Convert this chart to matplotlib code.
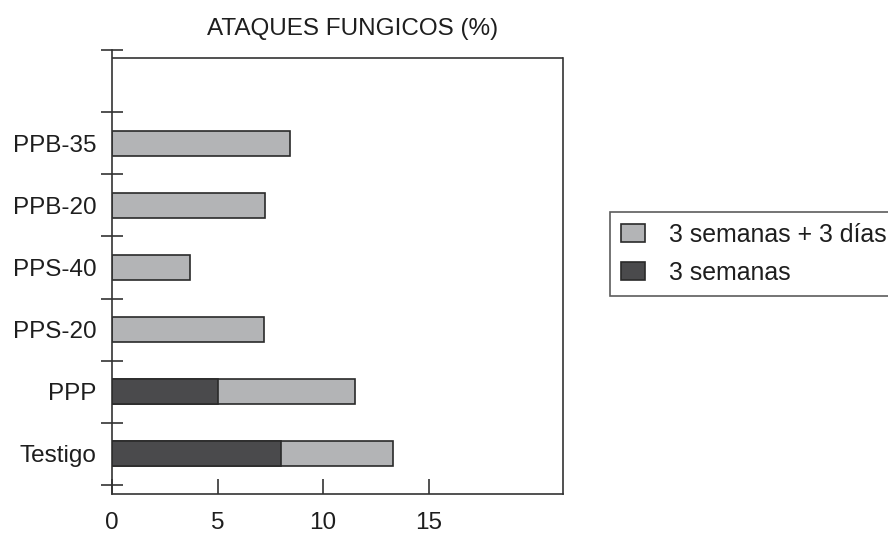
import numpy as np
import matplotlib
matplotlib.use("Agg")
import matplotlib.pyplot as plt
from matplotlib.patches import Patch

plt.rcParams['font.family'] = ['Liberation Sans', 'DejaVu Sans']

# data, bottom to top
categories = ["Testigo", "PPP", "PPS-20", "PPS-40", "PPB-20", "PPB-35"]
tres_semanas = [8.0, 5.0, 0, 0, 0, 0]
tres_semanas_3dias = [13.3, 11.5, 7.2, 3.7, 7.25, 8.45]
x_ticks = [0, 5, 10, 15]

light = "#b3b4b6"
dark = "#4a4a4c"
edge = "#2a2a2a"
txt = "#1e1e1e"

fig = plt.figure(figsize=(8.88, 5.34), dpi=100)
ax = fig.add_axes([0.1261, 0.0749, 0.5076, 0.8315])

ypos = np.arange(len(categories))
ax.barh(ypos, tres_semanas_3dias, height=0.40, color=light,
        edgecolor=edge, linewidth=1.2, zorder=2)
# only draw the dark part where there is one
idx = [i for i, v in enumerate(tres_semanas) if v > 0]
ax.barh(ypos[idx], [tres_semanas[i] for i in idx], height=0.40, color=dark,
        edgecolor=edge, linewidth=1.2, zorder=3)

ax.set_xlim(0, 21.35)
ax.set_ylim(-0.645, 6.5)

##spines
for s in ["left", "bottom", "right"]:
    ax.spines[s].set_color("#333333")
    ax.spines[s].set_linewidth(1.2)
ax.spines["top"].set_visible(False)
top_y = 6.376
ax.spines["right"].set_bounds(-0.645, top_y)
ax.axhline(top_y, color="#333333", linewidth=1.2, zorder=4)

##x axis
ax.set_xticks(x_ticks)
ax.set_xticklabels([str(v) for v in x_ticks])
ax.tick_params(axis="x", direction="in", length=10.8, width=1.2,
               color="#333333", labelsize=17.5, labelcolor=txt, pad=13)

##y axis: separator ticks + labels at centers
ax.set_yticks(np.arange(-0.5, 7, 1))
ax.set_yticklabels([])
ax.tick_params(axis="y", which="major", direction="inout", length=15.8,
               width=1.2, color="#333333")
ax.set_yticks(ypos, minor=True)
ax.set_yticklabels(categories, minor=True)
ax.tick_params(axis="y", which="minor", length=0, labelsize=17.5,
               labelcolor=txt, pad=11)

fig.text(353 / 888, 1 - 35 / 534, "ATAQUES FUNGICOS (%)", ha="center",
         va="baseline", fontsize=17.5, color=txt)

handles = [Patch(facecolor=light, edgecolor=edge, linewidth=1.2),
           Patch(facecolor=dark, edgecolor=edge, linewidth=1.2)]
leg = fig.legend(handles, ["3 semanas + 3 días", "3 semanas"],
                 loc="upper left", bbox_to_anchor=(609.5 / 888, 1 - 211.7 / 534),
                 fontsize=17.9, handlelength=0.98, handleheight=0.76,
                 handletextpad=0.95, labelspacing=0.56, borderpad=0.45,
                 borderaxespad=0, fancybox=False, frameon=True)
leg.get_frame().set_edgecolor("#333333")
leg.get_frame().set_linewidth(1.2)
for t in leg.get_texts():
    t.set_color(txt)

fig.savefig("out.png", dpi=100)
